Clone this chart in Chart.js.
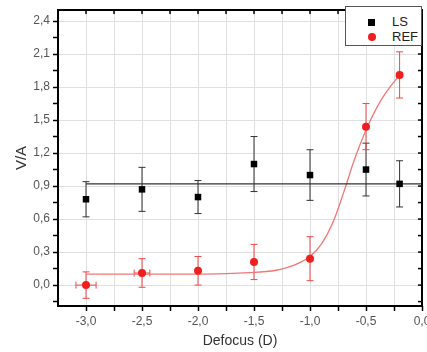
<!DOCTYPE html>
<html>
<head>
<meta charset="utf-8">
<script src="https://cdn.jsdelivr.net/npm/chart.js@4.4.1/dist/chart.umd.min.js"></script>
<style>
    body { margin: 0; background: #fff; }
    #wrap { position: relative; width: 427px; height: 352px; }
    #legend {
        position: absolute; left: 345px; top: 6px; width: 75px; height: 38px;
        background: #fff; border: 1px solid #555;
        font-family: "Liberation Sans", Arial, sans-serif; font-size: 13px; color: #222;
    }
    .row { position: absolute; left: 0; height: 16px; line-height: 16px; }
    .row span { position: absolute; left: 46px; }
    .sq { position: absolute; left: 22px; top: 5px; width: 7px; height: 7px; background: #000; }
    .dot { position: absolute; left: 22px; top: 4px; width: 8px; height: 8px; border-radius: 50%; background: #f01e1e; }
</style>
</head>
<body>
<div id="wrap">
    <canvas id="chart" width="427" height="352"></canvas>
    <div id="legend">
        <div class="row" style="top:7px"><div class="sq"></div><span>LS</span></div>
        <div class="row" style="top:22px"><div class="dot"></div><span>REF</span></div>
    </div>
</div>
<script>
// defocus positions (D)
const defocus = [-3.0, -2.5, -2.0, -1.5, -1.0, -0.5, -0.2];

// LS series
const lsValues = [0.78, 0.87, 0.80, 1.10, 1.00, 1.05, 0.92];
const lsErr = [0.16, 0.20, 0.15, 0.25, 0.23, 0.24, 0.21];
const lsMean = 0.92;

// REF series
const refValues = [0.00, 0.11, 0.13, 0.21, 0.24, 1.44, 1.91];
const refErr = [0.12, 0.13, 0.13, 0.16, 0.20, 0.21, 0.21];
const refErrX = [0.09, 0.07, 0, 0, 0, 0, 0];

// REF fit curve
const fitX = [-3.0, -2.5, -2.0, -1.75, -1.5, -1.3, -1.2, -1.1, -1.0, -0.9, -0.8, -0.7, -0.6, -0.5, -0.4, -0.3, -0.2];
const fitY = [0.10, 0.10, 0.10, 0.105, 0.115, 0.135, 0.16, 0.20, 0.26, 0.37, 0.56, 0.84, 1.15, 1.41, 1.62, 1.78, 1.91];

// ticks
const xMajor = [-3.0, -2.5, -2.0, -1.5, -1.0, -0.5, 0.0];
const xMinor = [-2.75, -2.25, -1.75, -1.25, -0.75, -0.25];
const yMajor = [0.0, 0.3, 0.6, 0.9, 1.2, 1.5, 1.8, 2.1, 2.4];
const yMinor = [-0.15, 0.15, 0.45, 0.75, 1.05, 1.35, 1.65, 1.95, 2.25];

const isIn = (arr, v) => arr.some(a => Math.abs(a - v) < 1e-6);
const fmt = v => v.toFixed(1).replace('.', ',');

function buildTicks(major, minor) {
    return major.concat(minor).sort((a, b) => a - b).map(v => ({ value: v }));
}

// error bars, drawn under the markers
const errorBars = {
    id: 'errorBars',
    beforeDatasetsDraw(chart) {
        const { ctx, scales: { x, y } } = chart;
        chart.data.datasets.forEach(ds => {
            if (!ds.errY) return;
            ctx.save();
            ctx.strokeStyle = ds.errColor;
            ctx.lineWidth = 1;
            ds.data.forEach((p, j) => {
                const px = x.getPixelForValue(p.x);
                const py = y.getPixelForValue(p.y);
                const top = y.getPixelForValue(p.y + ds.errY[j]);
                const bot = y.getPixelForValue(p.y - ds.errY[j]);
                ctx.beginPath();
                ctx.moveTo(px, top); ctx.lineTo(px, bot);
                ctx.moveTo(px - 3.5, top); ctx.lineTo(px + 3.5, top);
                ctx.moveTo(px - 3.5, bot); ctx.lineTo(px + 3.5, bot);
                if (ds.errX && ds.errX[j]) {
                    const l = x.getPixelForValue(p.x - ds.errX[j]);
                    const r = x.getPixelForValue(p.x + ds.errX[j]);
                    ctx.moveTo(l, py); ctx.lineTo(r, py);
                    ctx.moveTo(l, py - 3.5); ctx.lineTo(l, py + 3.5);
                    ctx.moveTo(r, py - 3.5); ctx.lineTo(r, py + 3.5);
                }
                ctx.stroke();
            });
            ctx.restore();
        });
    }
};

// box frame with inward ticks on top and right
const frame = {
    id: 'frame',
    afterDraw(chart) {
        const { ctx, chartArea: a, scales: { x, y } } = chart;
        ctx.save();
        ctx.strokeStyle = '#000';
        ctx.lineWidth = 1.5;
        x.ticks.forEach(t => {
            const px = x.getPixelForValue(t.value);
            ctx.beginPath(); ctx.moveTo(px, a.top); ctx.lineTo(px, a.top + 4); ctx.stroke();
        });
        y.ticks.forEach(t => {
            const py = y.getPixelForValue(t.value);
            ctx.beginPath(); ctx.moveTo(a.right, py); ctx.lineTo(a.right - 4, py); ctx.stroke();
        });
        ctx.lineWidth = 2;
        ctx.strokeRect(a.left, a.top, a.right - a.left, a.bottom - a.top);
        ctx.restore();
    }
};

const tickFont = { family: '"Liberation Sans", Arial, sans-serif', size: 12 };

new Chart(document.getElementById('chart'), {
    type: 'scatter',
    data: {
        datasets: [
            {
                label: 'LS',
                data: defocus.map((d, i) => ({ x: d, y: lsValues[i] })),
                pointStyle: 'rect',
                pointRadius: 4.6,
                backgroundColor: '#000',
                borderColor: '#000',
                borderWidth: 0,
                errY: lsErr,
                errColor: '#333'
            },
            {
                label: 'REF',
                data: defocus.map((d, i) => ({ x: d, y: refValues[i] })),
                pointStyle: 'circle',
                pointRadius: 4,
                backgroundColor: '#f01e1e',
                borderColor: '#f01e1e',
                borderWidth: 0,
                errY: refErr,
                errX: refErrX,
                errColor: '#f04848'
            },
            {
                label: 'LS mean',
                type: 'line',
                data: [{ x: defocus[0], y: lsMean }, { x: 0, y: lsMean }],
                borderColor: '#333',
                borderWidth: 1.3,
                pointRadius: 0
            },
            {
                label: 'REF fit',
                type: 'line',
                data: fitX.map((v, i) => ({ x: v, y: fitY[i] })),
                borderColor: '#f07878',
                borderWidth: 1.3,
                pointRadius: 0,
                tension: 0.4
            }
        ]
    },
    options: {
        responsive: false,
        animation: false,
        layout: { padding: { left: 0, right: 5, top: 10, bottom: 0 } },
        plugins: { legend: { display: false }, tooltip: { enabled: false } },
        scales: {
            x: {
                type: 'linear',
                min: -3.25,
                max: 0,
                afterBuildTicks: s => { s.ticks = buildTicks(xMajor, xMinor); },
                afterFit: s => { s.height = 46; s.paddingLeft = 0; s.paddingRight = 0; },
                border: { display: false },
                grid: {
                    color: '#e0e0e0',
                    borderDash: [3, 2],
                    tickColor: '#000',
                    tickLength: 5,
                    tickWidth: 1.5
                },
                ticks: {
                    autoSkip: false,
                    maxRotation: 0,
                    padding: 3,
                    color: '#555',
                    font: tickFont,
                    callback: v => isIn(xMajor, v) ? fmt(v) : ''
                },
                title: {
                    display: true,
                    text: 'Defocus (D)',
                    color: '#333',
                    font: { family: '"Liberation Sans", Arial, sans-serif', size: 14 },
                    padding: { top: 0, bottom: 2 }
                }
            },
            y: {
                type: 'linear',
                min: -0.19,
                max: 2.5,
                afterBuildTicks: s => { s.ticks = buildTicks(yMajor, yMinor); },
                afterFit: s => { s.width = 58; s.paddingTop = 0; s.paddingBottom = 0; },
                border: { display: false },
                grid: {
                    color: c => isIn(yMajor, c.tick.value) ? '#e0e0e0' : 'transparent',
                    borderDash: [3, 2],
                    tickColor: '#000',
                    tickLength: 5,
                    tickWidth: 1.5
                },
                ticks: {
                    autoSkip: false,
                    padding: 3,
                    color: '#555',
                    font: tickFont,
                    callback: v => isIn(yMajor, v) ? fmt(v) : ''
                },
                title: {
                    display: true,
                    text: 'V/A',
                    color: '#333',
                    font: { family: '"Liberation Sans", Arial, sans-serif', size: 15 },
                    padding: { top: 13, bottom: 0 }
                }
            }
        }
    },
    plugins: [errorBars, frame]
});
</script>
</body>
</html>
